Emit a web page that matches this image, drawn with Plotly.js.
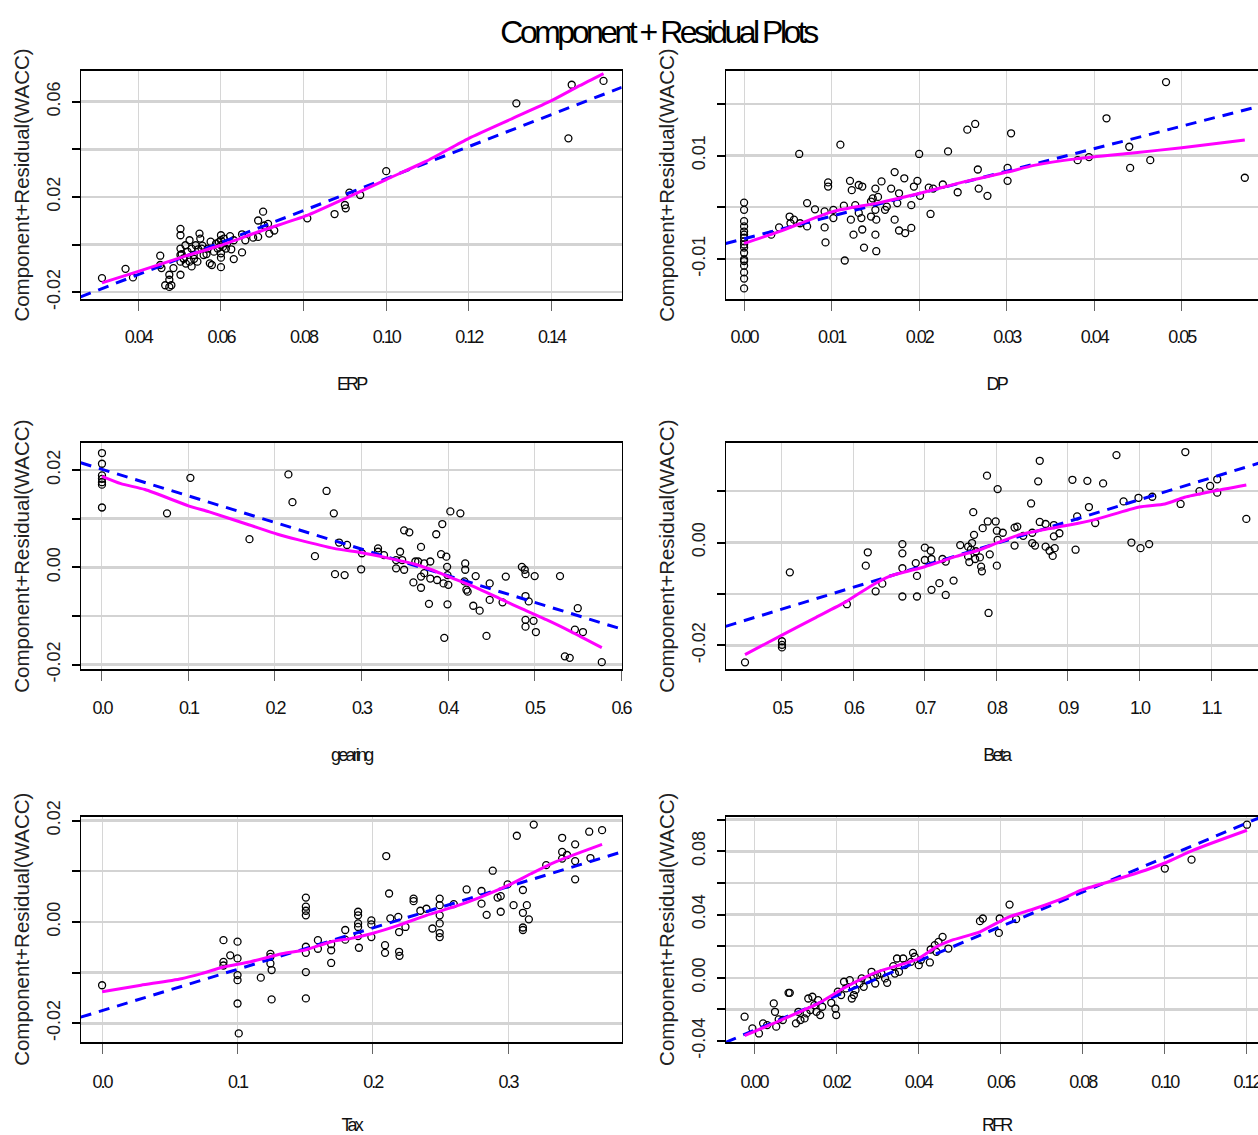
<!DOCTYPE html>
<html>
<head>
<meta charset="utf-8">
<script src="https://cdn.plot.ly/plotly-3.0.1.min.js"></script>
<style>
html,body{margin:0;padding:0;overflow:hidden;background:#fff;}
#plot{width:1316px;height:1135px;}
#plot .gtitle{letter-spacing:-3.5px;}
#plot g[class^="x"][class$="tick"] text{letter-spacing:-2px;}
#plot text[class^="x"][class$="title"]{letter-spacing:-2.8px;}
</style>
</head>
<body>
<div id="plot"></div>
<script>
// ---------------- DATA ----------------
const panelNames = ["ERP", "DP", "gearing", "Beta", "Tax", "RFR"];
const yLabel = "Component+Residual(WACC)";
const mainTitle = "Component + Residual Plots";

// ERP
const erpX = [0.0312,0.0369,0.0387,0.0453,0.0453,0.0456,0.0465,0.0475,0.048,0.0475,0.0475,0.0485,0.0502,0.0502,0.0502,0.0502,0.0502,0.0502,0.0509,0.0514,0.0519,0.0524,0.0524,0.0529,0.0529,0.0534,0.0539,0.0543,0.0548,0.055,0.0553,0.0558,0.0568,0.0573,0.0578,0.0583,0.0588,0.0592,0.06,0.06,0.06,0.06,0.06,0.06,0.0607,0.0612,0.0622,0.0631,0.0631,0.0651,0.0651,0.0659,0.0678,0.069,0.069,0.0702,0.0705,0.0714,0.0717,0.0729,0.0809,0.0875,0.09,0.0902,0.0911,0.0937,0.1,0.1315,0.1449,0.1441,0.1526,0.0505,0.051,0.0515,0.0535,0.0545,0.0565,0.0595,0.0605,0.0615,0.0625,0.0555,0.0575];
const erpY = [-0.0141,-0.0102,-0.0138,-0.0047,-0.0086,-0.0099,-0.0171,-0.0178,-0.0171,-0.0127,-0.0148,-0.0099,0.0066,0.0039,-0.0017,-0.0044,-0.0072,-0.0127,-0.0058,-0.0003,-0.003,0.0018,-0.0072,-0.0017,-0.0092,-0.0044,-0.0003,-0.0072,0.0046,0.0025,-0.0017,-0.0044,-0.0017,-0.0079,-0.0086,-0.003,0.0004,-0.0017,0.0039,0.0018,-0.0003,-0.0037,-0.0055,-0.0095,0.0025,-0.0017,0.0035,0.0018,-0.0061,0.0043,-0.0033,0.0018,0.0029,0.0101,0.0032,0.0138,0.008,0.0087,0.0046,0.0059,0.011,0.0128,0.0166,0.0152,0.0218,0.0208,0.0308,0.0593,0.0671,0.0446,0.0687,-0.004,-0.006,-0.008,-0.006,-0.002,-0.004,0.001,-0.001,0.0005,-0.002,-0.0005,0.0012];
const erpFitX = [0.026, 0.157];
const erpFitY = [-0.022, 0.066];
const erpSmoothX = [0.0312,0.04,0.0504,0.06,0.07,0.0807,0.0905,0.10,0.1096,0.12,0.1305,0.14,0.1468,0.1526];
const erpSmoothY = [-0.0161,-0.0113,-0.0054,-0.0003,0.0059,0.0121,0.0197,0.0273,0.0349,0.0446,0.0529,0.0604,0.0667,0.0718];

// DP
const dpX = [0,0,0,0,0,0,0,0,0,0,0,0,0,0,0,0,0,0.0031,0.004,0.0052,0.0053,0.0057,0.0063,0.0064,0.0072,0.0072,0.0081,0.0092,0.0092,0.0093,0.0096,0.0096,0.0102,0.0102,0.011,0.0114,0.0115,0.0121,0.0122,0.0123,0.0125,0.0127,0.0131,0.0131,0.0134,0.0135,0.0135,0.0137,0.0145,0.0145,0.0147,0.015,0.015,0.0151,0.015,0.0151,0.0153,0.0157,0.0161,0.0163,0.0168,0.0172,0.0172,0.0175,0.0177,0.0177,0.0183,0.0184,0.0191,0.0191,0.0194,0.0198,0.02,0.0201,0.0211,0.0213,0.0216,0.0227,0.0233,0.0244,0.0255,0.0264,0.0267,0.0268,0.0278,0.0301,0.0301,0.0305,0.0381,0.0394,0.0414,0.044,0.0441,0.0464,0.0482,0.0572];
const dpY = [0.0009,-0.0005,-0.0027,-0.0037,-0.0047,-0.0053,-0.0059,-0.0066,-0.0072,-0.0078,-0.0088,-0.0101,-0.0104,-0.0113,-0.0126,-0.0138,-0.0157,-0.0053,-0.0039,-0.0018,-0.0031,-0.0024,0.0103,-0.0031,0.0008,-0.0037,-0.0004,-0.0008,-0.0039,-0.0068,0.0048,0.004,-0.0005,-0.0021,0.0121,0.0003,-0.0103,0.0051,-0.0024,0.0033,-0.0053,0.0004,-0.0011,0.0043,-0.0021,-0.0043,0.004,-0.0078,0.0011,-0.0018,0.0017,0.0036,-0.0005,-0.0024,-0.0053,-0.0085,0.002,0.005,-0.0005,0.0001,0.0036,0.0068,-0.0024,0.0008,0.0027,-0.0045,0.0056,-0.005,-0.004,0.0004,0.004,0.0051,0.0103,0.0022,0.0038,-0.0013,0.0036,0.0044,0.0108,0.0029,0.015,0.0161,0.0073,0.0036,0.0022,0.0076,0.0051,0.0143,0.0091,0.0097,0.0172,0.0117,0.0076,0.0091,0.0242,0.0057];
const dpFitX = [-0.0021, 0.0597];
const dpFitY = [-0.0070, 0.0199];
const dpSmoothX = [0,0.004,0.0102,0.0152,0.0201,0.0251,0.0301,0.0331,0.0381,0.0444,0.05,0.0572];
const dpSmoothY = [-0.007,-0.0047,-0.0008,0.0008,0.0027,0.0049,0.0068,0.0081,0.0094,0.0105,0.0115,0.013];

// gearing
const gearX = [0,0,0,0,0,0,0,0.0752,0.1022,0.1705,0.2155,0.2202,0.2462,0.2596,0.268,0.2694,0.2741,0.2805,0.2833,0.2996,0.3005,0.3191,0.3191,0.326,0.34,0.34,0.3446,0.347,0.3493,0.3493,0.3553,0.36,0.3623,0.3655,0.3688,0.3688,0.3688,0.3725,0.3725,0.378,0.3795,0.3795,0.3864,0.3874,0.392,0.3934,0.3948,0.3957,0.3981,0.399,0.3994,0.3994,0.4004,0.4027,0.4143,0.419,0.4199,0.4199,0.4213,0.4227,0.4292,0.432,0.4366,0.4445,0.4482,0.4482,0.4631,0.4668,0.4854,0.4887,0.4896,0.4896,0.4896,0.4896,0.4933,0.4989,0.5002,0.5016,0.5295,0.5351,0.5407,0.5467,0.55,0.556,0.5778];
const gearY = [0.0235,0.0213,0.0189,0.0182,0.0175,0.017,0.0123,0.0111,0.0184,0.0058,0.0191,0.0134,0.0023,0.0157,0.0111,-0.0014,0.0051,-0.0016,0.0046,-0.0004,0.0029,0.0039,0.0032,0.0025,0.0015,-0.0002,0.0032,0.0015,0.0076,-0.0005,0.0072,-0.0031,0.0012,0.0012,0.0042,-0.0019,-0.0042,0.0008,-0.0012,-0.0075,0.0012,-0.0023,0.0068,-0.0026,0.0027,0.0089,-0.0033,-0.0145,0.0022,0.0001,-0.0016,-0.0076,-0.0036,0.0115,0.0111,-0.0029,0.0008,-0.0005,-0.0046,-0.005,-0.0079,-0.0018,-0.0089,-0.0141,-0.0033,-0.0067,-0.0072,-0.0019,0.0001,-0.0005,-0.0014,-0.0059,-0.0108,-0.0122,-0.007,-0.011,-0.0018,-0.0133,-0.0018,-0.0183,-0.0186,-0.0128,-0.0084,-0.0133,-0.0195];
const gearFitX = [-0.0246, 0.6008];
const gearFitY = [0.0215, -0.0127];
const gearSmoothX = [0,0.0218,0.0497,0.1008,0.124,0.1705,0.203,0.2262,0.268,0.3005,0.3284,0.3609,0.3795,0.4004,0.4306,0.4631,0.4864,0.5143,0.5421,0.5778];
const gearSmoothY = [0.0187,0.0172,0.016,0.0126,0.0114,0.0087,0.0068,0.0057,0.0039,0.003,0.002,0.0007,-0.0004,-0.0019,-0.004,-0.0067,-0.0086,-0.0108,-0.0132,-0.0165];

// Beta
const betaX = [0.4483,0.5,0.5,0.5,0.511,0.5908,0.6172,0.62,0.631,0.6403,0.6684,0.6684,0.6684,0.6684,0.6871,0.6888,0.6888,0.6998,0.6998,0.708,0.7091,0.7091,0.7201,0.7245,0.729,0.729,0.74,0.7493,0.7603,0.7603,0.762,0.7642,0.7658,0.7675,0.7686,0.7702,0.7713,0.7768,0.7785,0.7796,0.7807,0.7867,0.7878,0.7889,0.7906,0.7989,0.8005,0.8005,0.8016,0.8016,0.8088,0.8253,0.8253,0.8291,0.8374,0.8484,0.85,0.85,0.8539,0.8583,0.8605,0.8605,0.8687,0.8687,0.8742,0.8786,0.8803,0.8803,0.8814,0.888,0.9062,0.9106,0.9128,0.9271,0.9293,0.9381,0.9491,0.9678,0.9777,0.9887,0.9986,1.0014,1.0135,1.0179,1.0575,1.0641,1.0839,1.0988,1.1087,1.1087,1.1494];
const betaY = [-0.0233,-0.0192,-0.0199,-0.0204,-0.0058,-0.012,-0.0045,-0.0019,-0.0095,-0.008,-0.0003,-0.0021,-0.005,-0.0105,-0.004,-0.0065,-0.0105,-0.001,-0.0034,-0.0016,-0.0032,-0.0092,-0.0079,-0.0032,-0.0037,-0.0102,-0.0074,-0.0005,-0.0008,-0.0027,-0.0038,-0.0014,-0.0001,0.0059,0.0015,-0.0032,-0.0017,-0.0029,-0.0047,-0.0056,0.0028,0.013,0.0041,-0.0137,-0.0023,0.0041,0.0023,-0.0045,0.0104,0.0005,0.0019,0.0029,-0.0006,0.0031,0.0013,0.0076,0.0019,-0.0001,-0.0006,0.0119,0.0159,0.004,0.0036,-0.0008,-0.0016,-0.0026,0.0034,0.0012,-0.0011,0.0018,0.0122,-0.0014,0.0051,0.012,0.0069,0.0038,0.0115,0.017,0.008,0,0.0087,-0.0011,-0.0003,0.0089,0.0075,0.0176,0.01,0.011,0.0123,0.0097,0.0046];
const betaFitX = [0.4213, 1.1779];
const betaFitY = [-0.0163, 0.0159];
const betaSmoothX = [0.4483,0.5,0.5457,0.5897,0.6227,0.6502,0.6998,0.7438,0.7768,0.8005,0.8319,0.8649,0.9018,0.9364,0.9997,1.0355,1.063,1.0998,1.1494];
const betaSmoothY = [-0.0218,-0.018,-0.0147,-0.0115,-0.0086,-0.0066,-0.0047,-0.0027,-0.0014,-0.0001,0.0015,0.0025,0.0034,0.0044,0.0069,0.0075,0.0088,0.0099,0.0112];

// Tax
const taxX = [0,0.0897,0.0897,0.0897,0.0947,0.1001,0.1001,0.1001,0.1001,0.1001,0.101,0.1173,0.1244,0.1244,0.1244,0.1253,0.1253,0.1506,0.1506,0.1506,0.1506,0.1506,0.1506,0.1506,0.1506,0.1595,0.1595,0.1693,0.1693,0.1693,0.1797,0.1797,0.1892,0.1892,0.1892,0.1892,0.1892,0.1898,0.199,0.199,0.199,0.2091,0.2091,0.21,0.2121,0.213,0.2189,0.2195,0.2195,0.2198,0.2242,0.2302,0.2302,0.2352,0.2397,0.2441,0.2495,0.2495,0.2495,0.2495,0.2495,0.2495,0.2599,0.2694,0.2804,0.2804,0.2842,0.2887,0.2923,0.2946,0.2946,0.2997,0.3041,0.3065,0.311,0.311,0.311,0.311,0.3139,0.3154,0.319,0.3282,0.34,0.34,0.34,0.3436,0.3496,0.3496,0.3496,0.36,0.3609,0.3695];
const taxY = [-0.0125,-0.0036,-0.0079,-0.0086,-0.0066,-0.0039,-0.0072,-0.0105,-0.0115,-0.0161,-0.022,-0.011,-0.0063,-0.0069,-0.0082,-0.0095,-0.0153,0.0048,0.003,0.0022,0.0013,-0.0049,-0.0061,-0.0099,-0.0151,-0.0036,-0.0053,-0.0044,-0.0056,-0.0081,-0.0016,-0.0035,0.002,0.0013,-0.0003,-0.001,-0.0028,-0.0051,0.0003,-0.0005,-0.003,-0.0046,-0.0061,0.013,0.0056,0.0007,0.001,-0.002,-0.0059,-0.0067,-0.001,0.0046,0.0041,0.0022,0.0026,-0.0013,0.0046,0.0033,0.0013,-0.0003,-0.0022,-0.003,0.0035,0.0064,0.0061,0.0036,0.0014,0.0101,0.0048,0.0051,0.002,0.0074,0.0033,0.017,0.0063,0.0018,-0.0011,-0.0016,0.0033,0.0005,0.0192,0.0112,0.0166,0.0138,0.0125,0.0132,0.0153,0.012,0.0084,0.0178,0.0126,0.0181];
const taxFitX = [-0.0158, 0.384];
const taxFitY = [-0.0188, 0.0138];
const taxSmoothX = [0,0.0288,0.0585,0.0734,0.0897,0.109,0.1328,0.1506,0.1693,0.1833,0.1996,0.2189,0.2397,0.2605,0.2798,0.3,0.3169,0.3347,0.3695];
const taxSmoothY = [-0.0138,-0.0125,-0.0112,-0.0102,-0.0089,-0.0079,-0.0063,-0.0055,-0.0039,-0.0033,-0.0023,-0.0007,0.0013,0.003,0.0049,0.0072,0.0095,0.0118,0.0153];

// RFR
const rfrX = [-0.0023,-0.0004,0.0012,0.0022,0.0032,0.0048,0.0051,0.0054,0.006,0.007,0.0084,0.0087,0.0102,0.0108,0.0113,0.0123,0.0128,0.0132,0.0137,0.0142,0.0147,0.0152,0.0156,0.0161,0.0166,0.0188,0.0198,0.02,0.0204,0.0212,0.0219,0.0224,0.0233,0.0238,0.0243,0.0247,0.0257,0.0262,0.0267,0.0276,0.0286,0.0291,0.0295,0.03,0.031,0.0319,0.0324,0.0339,0.0343,0.0348,0.0353,0.0363,0.0367,0.0382,0.0387,0.0391,0.0401,0.0406,0.0428,0.043,0.044,0.0444,0.0449,0.0459,0.0473,0.055,0.0557,0.0596,0.0598,0.0622,0.0638,0.1,0.1065,0.12];
const rfrY = [-0.0246,-0.032,-0.0352,-0.0288,-0.0299,-0.0162,-0.0215,-0.0309,-0.0263,-0.0267,-0.0095,-0.0095,-0.0288,-0.0215,-0.0267,-0.0257,-0.0225,-0.0131,-0.0204,-0.012,-0.0173,-0.0215,-0.0141,-0.0236,-0.0183,-0.0158,-0.0194,-0.0236,-0.0088,-0.0109,-0.0025,-0.0067,-0.0015,-0.0131,-0.0109,-0.0078,-0.0036,-0.0004,-0.0057,-0.0015,0.0038,0.0006,-0.0036,0.0017,0.0027,-0.0004,-0.0032,0.0074,0.0027,0.0122,0.0038,0.0122,0.008,0.0101,0.0158,0.0133,0.008,0.0112,0.0097,0.0179,0.0206,0.0164,0.0227,0.0259,0.0185,0.0358,0.0375,0.0284,0.0375,0.0463,0.0371,0.0691,0.0747,0.0968];
const rfrFitX = [-0.0069, 0.1248];
const rfrFitY = [-0.0408, 0.1032];
const rfrSmoothX = [-0.0023,0.006,0.0156,0.0224,0.03,0.0396,0.0444,0.0482,0.055,0.0617,0.0684,0.0761,0.0796,0.0876,0.0953,0.1,0.1068,0.12];
const rfrSmoothY = [-0.0366,-0.0274,-0.0162,-0.0057,0.0038,0.0116,0.0196,0.0238,0.0291,0.0381,0.0438,0.0512,0.0554,0.0617,0.068,0.0726,0.0806,0.0933];

// Tick values & labels
const xTickVals = [
  [0.04,0.06,0.08,0.10,0.12,0.14],
  [0,0.01,0.02,0.03,0.04,0.05],
  [0,0.1,0.2,0.3,0.4,0.5,0.6],
  [0.5,0.6,0.7,0.8,0.9,1.0,1.1],
  [0,0.1,0.2,0.3],
  [0,0.02,0.04,0.06,0.08,0.10,0.12]
];
const xTickText = [
  ["0.04","0.06","0.08","0.10","0.12","0.14"],
  ["0.00","0.01","0.02","0.03","0.04","0.05"],
  ["0.0","0.1","0.2","0.3","0.4","0.5","0.6"],
  ["0.5","0.6","0.7","0.8","0.9","1.0","1.1"],
  ["0.0","0.1","0.2","0.3"],
  ["0.00","0.02","0.04","0.06","0.08","0.10","0.12"]
];
const yTickVals = [
  [-0.02,0,0.02,0.04,0.06],
  [-0.01,0,0.01,0.02],
  [-0.02,-0.01,0,0.01,0.02],
  [-0.02,-0.01,0,0.01],
  [-0.02,-0.01,0,0.01,0.02],
  [-0.04,-0.02,0,0.02,0.04,0.06,0.08,0.10]
];
const yTickText = [
  ["-0.02","","0.02","","0.06"],
  ["-0.01","","0.01",""],
  ["-0.02","","0.00","","0.02"],
  ["-0.02","","0.00",""],
  ["-0.02","","0.00","","0.02"],
  ["-0.04","","0.00","","0.04","","0.08",""]
];
// ---------------- LAYOUT ----------------
const W = 1316, H = 1135;
const colPx = [[80.7, 621.7], [725.7, 1266.7]];
const rowPx = [[70.7, 299.3], [443.3, 669], [816.5, 1042]];
const rowTickStandoff = [10, 11, 12];
const rowTitleStandoff = [31, 32, 35];
const xRanges = [[0.02605,0.157],[-0.0021,0.0597],[-0.0246,0.6008],[0.4213,1.1779],[-0.0158,0.384],[-0.0069,0.1248]];
const yRanges = [[-0.023,0.073],[-0.0178,0.0264],[-0.0209,0.0255],[-0.0246,0.0193],[-0.0237,0.0208],[-0.0406,0.102]];

const points = [[erpX,erpY],[dpX,dpY],[gearX,gearY],[betaX,betaY],[taxX,taxY],[rfrX,rfrY]];
const fits = [[erpFitX,erpFitY],[dpFitX,dpFitY],[gearFitX,gearFitY],[betaFitX,betaFitY],[taxFitX,taxFitY],[rfrFitX,rfrFitY]];
const smooths = [[erpSmoothX,erpSmoothY],[dpSmoothX,dpSmoothY],[gearSmoothX,gearSmoothY],[betaSmoothX,betaSmoothY],[taxSmoothX,taxSmoothY],[rfrSmoothX,rfrSmoothY]];

const regular = "'Liberation Sans', Arial, sans-serif";

const traces = [];
const layout = {
  width: W, height: H, autosize: false,
  margin: {l: 0, r: 0, t: 0, b: 0},
  paper_bgcolor: "#fff", plot_bgcolor: "#fff",
  showlegend: false,
  title: {text: mainTitle, x: 658 / W, xref: "container", xanchor: "center",
          y: 1 - 32 / H, yref: "container", yanchor: "middle",
          font: {family: regular, size: 32, color: "#000"}}
};

for (let i = 0; i < 6; i++) {
  const r = Math.floor(i / 2), c = i % 2;
  const sfx = i === 0 ? "" : String(i + 1);
  const xa = "x" + sfx, ya = "y" + sfx;
  traces.push({x: points[i][0], y: points[i][1], xaxis: xa, yaxis: ya, type: "scatter", mode: "markers",
    marker: {symbol: "circle-open", size: 7, color: "#000", line: {width: 1.3, color: "#000"}}, hoverinfo: "skip"});
  traces.push({x: fits[i][0], y: fits[i][1], xaxis: xa, yaxis: ya, type: "scatter", mode: "lines",
    line: {color: "#0000ff", width: 3, dash: "11px,8px"}, hoverinfo: "skip"});
  traces.push({x: smooths[i][0], y: smooths[i][1], xaxis: xa, yaxis: ya, type: "scatter", mode: "lines",
    line: {color: "#ff00ff", width: 3, shape: "spline", smoothing: 0.6}, hoverinfo: "skip"});

  layout["xaxis" + sfx] = {
    domain: [colPx[c][0] / W, colPx[c][1] / W], anchor: ya, range: xRanges[i],
    tickmode: "array", tickvals: xTickVals[i], ticktext: xTickText[i],
    ticks: "outside", ticklen: 10, tickwidth: 1, tickcolor: "#666",
    ticklabelstandoff: rowTickStandoff[r],
    tickfont: {family: regular, size: 18, color: "#111"},
    showgrid: true, gridcolor: "#d6d6d6", gridwidth: 1, zeroline: false,
    showline: true, linecolor: "#000", linewidth: 2, mirror: true,
    automargin: false, fixedrange: true,
    title: {text: panelNames[i], standoff: rowTitleStandoff[r], font: {family: regular, size: 18, color: "#111"}}
  };
  layout["yaxis" + sfx] = {
    domain: [1 - rowPx[r][1] / H, 1 - rowPx[r][0] / H], anchor: xa, range: yRanges[i],
    tickmode: "array", tickvals: yTickVals[i], ticktext: yTickText[i],
    ticks: "outside", ticklen: 8, tickwidth: 2, tickcolor: "#000",
    tickangle: -90, ticklabelstandoff: 5,
    tickfont: {family: regular, size: 18, color: "#222"},
    showgrid: true, gridcolor: "#d3d3d3", gridwidth: 2.5, zeroline: false,
    showline: true, linecolor: "#000", linewidth: 1, mirror: true,
    automargin: false, fixedrange: true,
    title: {text: yLabel, standoff: 8, font: {family: regular, size: 20.5, color: "#222"}}
  };
}

Plotly.newPlot("plot", traces, layout, {staticPlot: true, displayModeBar: false});
</script>
</body>
</html>
